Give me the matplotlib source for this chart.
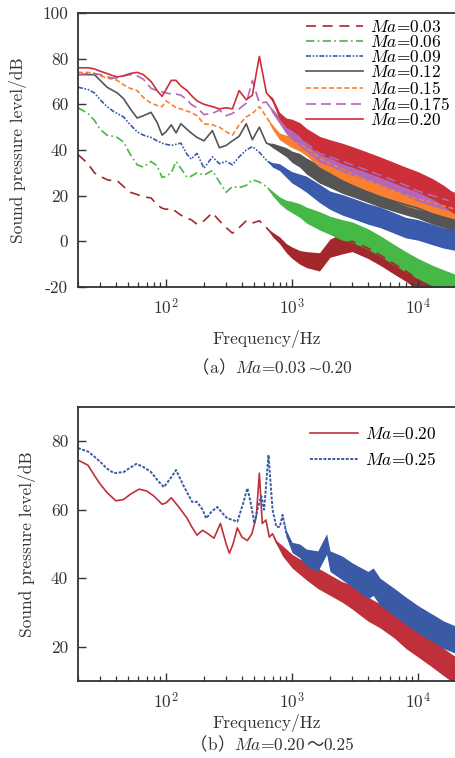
import matplotlib
matplotlib.use("Agg")
import matplotlib.pyplot as plt
from matplotlib.ticker import LogLocator, FixedLocator, FuncFormatter, NullFormatter
import numpy as np

plt.rcParams['font.family'] = ['cmr10', 'Noto Sans CJK SC']
plt.rcParams['mathtext.fontset'] = 'cm'
plt.rcParams['axes.unicode_minus'] = False
plt.rcParams['axes.formatter.use_mathtext'] = True

# ---------------- data: panel (a) ----------------
freq_a = [20, 24, 27, 30, 34, 38, 41, 46, 52, 59, 66, 76, 85, 93, 100, 110, 120, 131, 147, 158,
          176, 200, 233, 265, 300, 336, 380, 433, 484, 550, 626, 700, 795, 900, 1000, 1150, 1300,
          1650, 2000, 2500, 3000, 4000, 5000, 6500, 8000, 10000, 13000, 16000, 20000]
spl_003 = [38, 34, 30, 28.5, 27, 26.5, 26.5, 24, 21.5, 20.5, 19.5, 19, 16, 14.5, 14, 14.5, 13, 11.5, 10, 9.5,
           7.5, 9, 12.5, 9, 6, 3.6, 6, 9, 8, 9, 6, 3, 0.5, -3, -5, -7, -8,
           -9, -3, -1, 0, -3, -6, -10, -13, -17, -22, -25, -28]
spl_006 = [58.5, 56, 53, 49, 46.5, 46, 45.5, 43.5, 38, 33.5, 32.5, 35, 33, 28, 28.5, 30, 35, 32, 28, 28.5,
           30, 29, 31, 26, 21.5, 24, 23.5, 24.5, 27, 26, 24, 21, 18, 16, 15, 13.5, 11.5,
           9, 7, 5, 4, 1, -2, -6, -9, -12, -15, -17, -19]
spl_009 = [67.5, 66.5, 65, 62, 59, 57, 56, 54.5, 51, 48, 46.5, 45.5, 44, 43, 42.5, 42, 42.5, 43, 38, 36,
           38.5, 32, 37, 34, 35, 33.5, 37, 40, 41.5, 39, 35.5, 33.5, 32.5, 30, 28, 26.5, 25,
           21, 18, 16, 14.5, 12, 10.5, 8, 6, 5, 3, 1.5, 0.5]
spl_012 = [73, 73, 73, 70.5, 67.5, 66, 65, 62.5, 58, 54, 55, 56.5, 52, 46.5, 48, 51, 47.5, 51.5, 49, 47.5,
           45.5, 44, 48.5, 41, 42, 44, 46, 51.5, 44.5, 50, 43, 42, 40.5, 39, 37, 35.5, 33,
           29.5, 27.5, 25.5, 24, 21.5, 19.5, 17.5, 16, 14.5, 12, 10.5, 9]
spl_015 = [74, 74, 73.5, 72.5, 71.5, 71, 70.5, 68.5, 67, 66, 63, 60.5, 59.5, 59, 61.5, 60, 58.5, 58, 57, 56.5,
           55, 51.5, 51, 50, 48, 46.5, 51, 54.5, 56, 59, 54.5, 50, 46, 44.5, 43.5, 42.5, 41,
           36.5, 34, 31.5, 29.5, 26.5, 24.5, 22, 20, 18.5, 17, 15.5, 14]
spl_0175 = [73, 73.5, 73.5, 73, 72, 71.5, 71.5, 72.5, 73, 72.5, 71, 67, 66, 65.5, 65, 64.5, 64.5, 64, 62, 60,
            58.5, 55.5, 56, 57.5, 55, 56, 58, 60.5, 70.5, 60.5, 61, 57, 53, 49, 47, 44.5, 43,
            38.5, 37, 35, 33.5, 31, 29, 26.5, 24.5, 22, 20, 18.5, 17]
spl_020 = [76, 76, 75.5, 74.5, 73.5, 72.5, 72, 72.5, 73.5, 74, 73, 70, 66, 63.5, 66.5, 70.5, 70.5, 68, 66, 64,
           61.5, 60, 59, 58, 58.5, 58, 66, 62, 64, 81, 65, 62, 55, 52, 51, 49, 46,
           42, 40.5, 38.5, 37, 34.5, 32.5, 30, 28, 26, 23, 20, 16]
# half-width of the broadband noise band
noise_a = [0] * 31 + [1, 1.5, 2, 2.5, 3, 3.5, 4, 4, 4.5, 4.5, 4.5, 4.5, 4.5, 4.5, 4.5, 4.5, 4.5, 4.5]

labels_a = ['0.03', '0.06', '0.09', '0.12', '0.15', '0.175', '0.20']

# ---------------- data: panel (b) ----------------
freq_b020 = [20, 24, 27, 30, 34, 40, 46, 52, 61, 70, 80, 93, 100, 110, 125, 147, 160, 176, 195, 215,
             240, 270, 300, 318, 340, 368, 400, 442, 480, 520, 550, 580, 620, 660, 700, 750, 840, 1000,
             1300, 1600, 2000, 2500, 3000, 4000, 5000, 6500, 8000, 10000, 13000, 16000, 20000]
spl_b020 = [74.5, 73, 70, 67.5, 65, 62.6, 63, 64.5, 66, 65.5, 64, 61.6, 62, 63.5, 61, 57.5, 55, 52.6, 54, 53,
            51.7, 56, 50, 47.3, 50, 54.7, 52, 51, 53, 58, 70.7, 56, 57, 52, 53, 50.5, 48, 45,
            42, 40, 38, 36, 34.5, 31, 29, 26, 23.5, 21, 18, 15.5, 13]
noise_b020 = [0] * 35 + [0.5, 1.5, 2, 2.5, 3, 3, 3, 3.5, 3.5, 3.5, 3.5, 4, 4, 4, 4, 4]

freq_b025 = [20, 24, 27, 30, 34, 38.5, 46, 52, 58, 66, 76, 86, 96, 110, 120, 139, 161, 176, 195, 208,
             230, 255, 280, 306, 340, 368, 410, 442, 470, 502, 530, 570, 600, 650, 700, 750, 800, 840,
             900, 1000, 1150, 1300, 1600, 1880, 2000, 2500, 3000, 4000, 4400, 5000, 6500, 8000, 10000,
             13000, 16000, 20000]
spl_b025 = [78, 77, 75.5, 74, 72, 70.7, 71, 72.3, 73.4, 72.5, 71, 68.5, 66.6, 69.5, 71.6, 66.7, 62.3, 62.3, 60, 57.5,
            59.5, 60.8, 59, 57.5, 57, 56.5, 62, 66.3, 62, 56, 60, 64, 60, 76, 60, 55, 55, 58.5,
            53, 49, 48, 46, 45, 50, 45, 43, 41, 38, 39, 36, 33, 30.5, 28,
            25.5, 23.5, 22]
noise_b025 = [0] * 38 + [1, 1.5, 2, 2.5, 3, 3, 3, 3.5, 3.5, 4, 4, 4, 4, 4, 4, 4, 4, 4]

# ---------------- styles ----------------
colors_a = ['#a3282c', '#45b845', '#3a5aab', '#555555', '#f98030', '#b268b6', '#cc2f38']
styles_a = [(0, (6, 4)), (0, (5, 2, 1, 2)), (0, (3, 1, 1, 1, 1, 1)), '-', (0, (3, 1.6)), (0, (6, 3)), '-']
series_a = [spl_003, spl_006, spl_009, spl_012, spl_015, spl_0175, spl_020]

W, H = 456, 758
fig = plt.figure(figsize=(W / 100, H / 100), dpi=100)
TXT = '#333333'


def style_axes(ax, xpad):
    ax.set_xscale('log')
    ax.set_xlim(20, 20000)
    ax.xaxis.set_major_locator(LogLocator(base=10, numticks=10))
    ax.xaxis.set_minor_locator(LogLocator(base=10, subs=np.arange(2, 10), numticks=20))
    ax.xaxis.set_minor_formatter(NullFormatter())
    ax.tick_params(axis='both', which='major', direction='in', length=6, width=1.0,
                   labelsize=12.5, colors=TXT, labelcolor=TXT, top=False, right=False, pad=7)
    ax.tick_params(axis='x', which='minor', direction='in', length=3.5, width=0.9, colors=TXT, top=False)
    for s in ['left', 'bottom', 'top']:
        ax.spines[s].set_linewidth(1.3)
        ax.spines[s].set_color(TXT)
    ax.spines['right'].set_visible(False)
    ax.set_ylabel('Sound pressure level/dB', fontsize=12.5, color=TXT, labelpad=11)
    ax.set_xlabel('Frequency/Hz', fontsize=12.5, color=TXT, labelpad=xpad)


# panel (a)
ax1 = fig.add_axes([78 / W, 1 - 287 / H, 1 - 78 / W, (287 - 13) / H])
fa = np.array(freq_a)
na = np.array(noise_a)
for spl, c, ls, lab in zip(series_a, colors_a, styles_a, labels_a):
    y = np.array(spl)
    ax1.fill_between(fa, y - na, y + na, where=na > 0, color=c, lw=0, interpolate=True)
    ax1.plot(fa, y, color=c, ls=ls, lw=1.2, label=r'$Ma$=' + lab)
ax1.set_ylim(-20, 100)
ax1.yaxis.set_major_locator(FixedLocator([-20, 0, 20, 40, 60, 80, 100]))
ax1.yaxis.set_major_formatter(FuncFormatter(lambda v, p: '%d' % v))
style_axes(ax1, 9)
ax1.legend(loc='upper right', frameon=False, fontsize=12.5, labelspacing=-0.05, handlelength=3.3,
           handletextpad=0.4, borderaxespad=0.15, borderpad=0.2)

# panel (b)
ax2 = fig.add_axes([78 / W, 1 - 681 / H, 1 - 78 / W, (681 - 407) / H])
f20 = np.array(freq_b020); y20 = np.array(spl_b020); n20 = np.array(noise_b020)
f25 = np.array(freq_b025); y25 = np.array(spl_b025); n25 = np.array(noise_b025)
ax2.fill_between(f20, y20 - n20, y20 + n20, where=n20 > 0, color='#c0303a', lw=0, interpolate=True)
ax2.plot(f20, y20, color='#c0303a', lw=1.2, label=r'$Ma$=0.20')
ax2.fill_between(f25, y25 - n25, y25 + n25, where=n25 > 0, color='#3b5aa5', lw=0, interpolate=True)
ax2.plot(f25, y25, color='#3b5aa5', lw=1.4, ls=(0, (1.5, 0.8)), label=r'$Ma$=0.25')
ax2.set_ylim(10, 90)
ax2.yaxis.set_major_locator(FixedLocator([20, 40, 60, 80]))
ax2.yaxis.set_major_formatter(FuncFormatter(lambda v, p: '%d' % v))
style_axes(ax2, 2)
ax2.legend(loc='upper right', frameon=False, fontsize=12.5, labelspacing=0.5, handlelength=2.8,
           handletextpad=0.4, borderaxespad=0.8, borderpad=0.3)

# captions built from pieces so each character gets a font that has it
CJK = ['Noto Sans CJK SC', 'DejaVu Sans']


def caption(pieces, ypix, xcenter_pix):
    texts = [fig.text(0, 1 - ypix / H, s, family=fam, fontsize=12.5, color=TXT,
                      ha='left', va='baseline') for s, fam in pieces]
    fig.canvas.draw()
    r = fig.canvas.get_renderer()
    widths = [t.get_window_extent(r).width for t in texts]
    x = xcenter_pix - sum(widths) / 2
    for t, w in zip(texts, widths):
        t.set_x(x / W)
        x += w


caption([('（', CJK), ('a', 'cmr10'), ('）', CJK), ('$Ma$=0.03', 'cmr10'), ('~', 'DejaVu Serif'),
         ('0.20', 'cmr10')], 373, 272)
caption([('（', CJK), ('b', 'cmr10'), ('）', CJK), ('$Ma$=0.20', 'cmr10'), ('～', CJK),
         ('0.25', 'cmr10')], 750, 272)

fig.savefig('out.png', dpi=100)
